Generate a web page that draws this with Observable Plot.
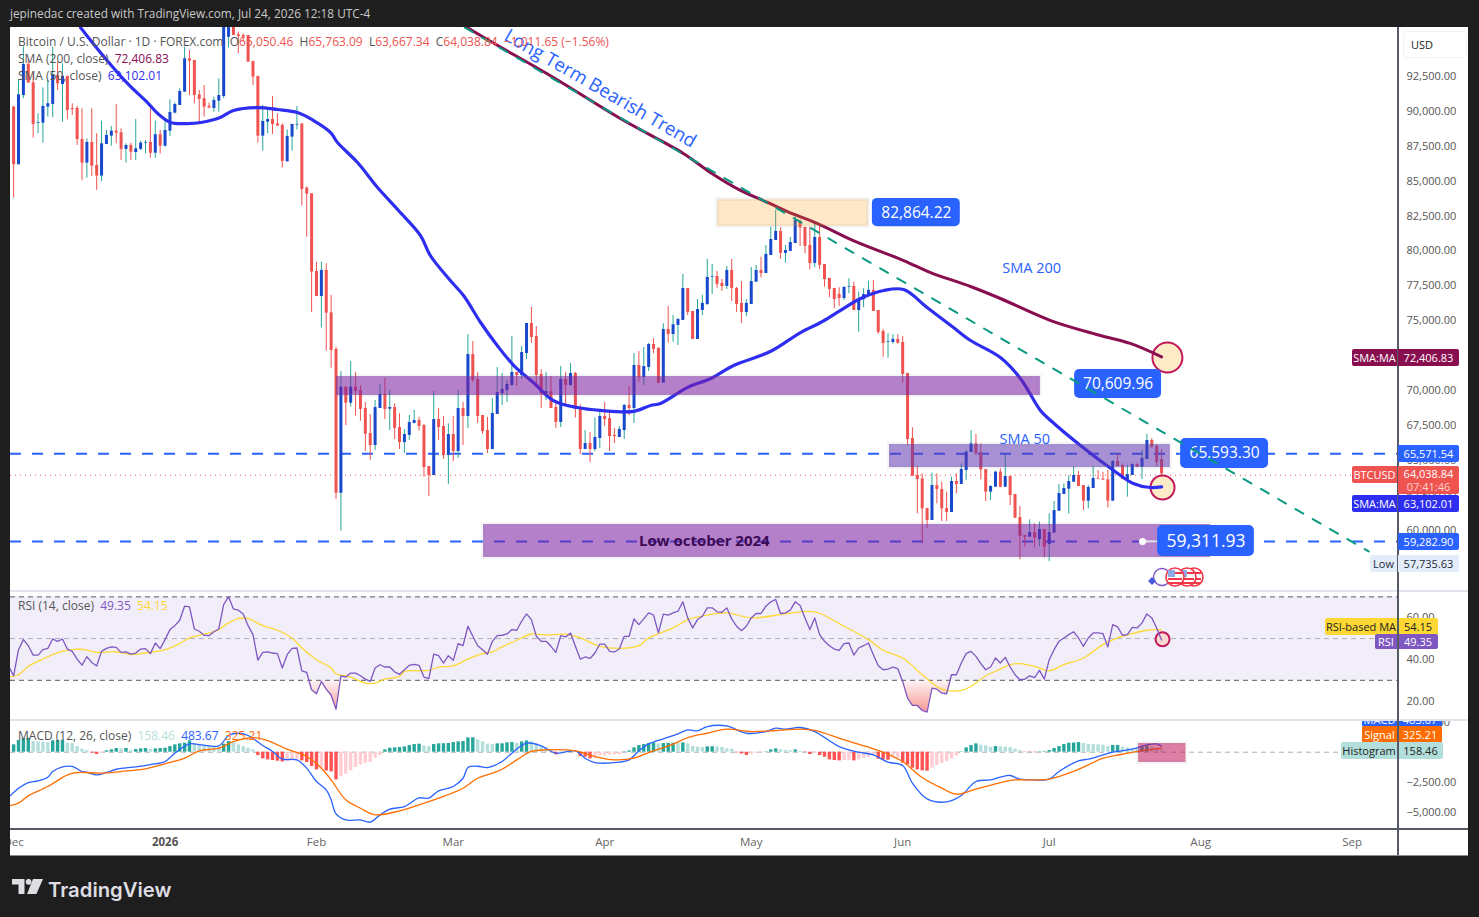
<!DOCTYPE html>
<html><head><meta charset="utf-8">
<script src="https://cdn.jsdelivr.net/npm/d3@7"></script>
<script src="https://cdn.jsdelivr.net/npm/@observablehq/plot@0.6"></script>
<style>
html,body{margin:0;padding:0;background:#1e1e1e;width:1479px;height:917px;overflow:hidden;font-family:"Open Sans",sans-serif}
#panel{position:absolute;left:10px;top:27px;width:1458px;height:829px;background:#fff}
.pane{position:absolute;left:0;width:1458px;overflow:hidden}
.abs{position:absolute;white-space:pre;line-height:1}
.tag{position:absolute;white-space:pre;font-size:11px;display:flex;align-items:center;justify-content:center;font-weight:500}
</style></head><body>
<div class="abs" style="left:10px;top:8px;color:#c9c9c9;font-size:11.8px">jepinedac created with TradingView.com, Jul 24, 2026 12:18 UTC-4</div>
<div id="panel"></div>
<svg style="position:absolute;left:12px;top:879px" width="32" height="16" viewBox="0 0 32 16"><path fill="#dddde2" d="M0 0h12.5v15h-6V5.4H0zM21 0h10l-6.6 15H15z"/><circle cx="16.6" cy="2.8" r="2.9" fill="#dddde2"/></svg>
<div class="abs" style="left:48px;top:877px;color:#dddde2;font:600 20.3px Inter,sans-serif">TradingView</div>
<script>
// day offsets are counted from 2026-02-01; daily bars start at 2025-12-01
const firstBarDay = -62;
const opens = [90.30,86.17,91.13,93.36,92.04,89.13,89.15,90.30,90.49,92.57,91.92,92.50,90.20,90.20,87.98,86.29,87.77,86.12,85.36,87.62,88.22,88.58,88.46,87.27,87.55,87.05,87.27,87.72,87.77,87.00,88.32,87.50,88.58,89.87,90.42,91.37,93.76,93.64,91.18,90.90,90.35,90.20,90.73,91.06,95.30,96.50,95.48,95.43,95.43,93.57,92.50,88.22,89.22,89.41,89.10,88.99,86.38,88.15,89.01,89.08,84.50,84.09,
78.53,76.73,78.60,75.56,72.94,62.64,70.24,69.09,70.24,70.00,68.71,66.92,66.06,68.71,69.71,68.66,68.78,67.35,66.27,66.78,67.64,67.85,67.49,64.55,63.91,67.92,67.42,65.34,66.85,65.63,68.71,68.14,72.58,70.79,68.21,67.13,65.77,68.28,69.78,70.00,70.36,71.29,71.07,72.65,74.80,73.87,71.14,69.78,69.93,68.78,67.71,70.79,70.36,71.22,68.71,65.77,66.20,65.77,66.56,68.14,67.99,66.78,66.63,67.13,68.93,68.71,71.79,70.93,71.65,73.30,
73.03,70.53,74.37,74.01,74.66,75.02,77.31,75.66,73.66,75.73,76.16,78.12,78.17,77.67,77.45,78.60,77.31,76.24,75.59,76.16,77.76,78.60,78.38,79.67,80.75,81.39,79.82,79.96,80.53,82.13,81.68,80.39,79.10,80.96,79.03,78.03,77.31,76.88,76.59,77.40,77.45,75.73,76.50,76.81,77.17,75.73,74.23,73.46,73.44,73.66,
73.44,71.22,66.56,63.91,63.67,61.55,60.69,63.19,62.91,61.55,61.26,63.48,63.27,64.27,65.56,66.18,65.53,64.34,62.72,63.07,64.15,63.07,63.84,62.55,60.90,59.61,59.49,59.83,59.32,60.04,58.97,59.78,61.35,62.55,62.93,63.43,63.91,63.19,62.07,62.98,63.70,63.65,63.60,62.07,64.91,64.63,63.62,63.91,64.70,64.51,65.06,66.42,65.99,65.05];
const highs = [90.35,92.26,94.60,93.70,92.80,89.82,91.68,92.21,94.60,93.52,93.40,92.50,90.54,90.35,90.18,88.03,90.18,88.39,89.30,88.63,88.91,90.49,88.75,87.67,87.72,89.41,87.86,87.91,90.18,89.30,88.63,89.34,90.82,90.59,91.61,94.60,94.36,93.64,91.49,91.85,90.59,91.01,92.33,96.50,97.00,97.00,95.67,95.55,95.43,93.57,92.50,90.42,90.18,91.06,89.82,89.10,88.67,89.06,90.35,89.13,84.57,84.09,
79.19,79.19,79.08,76.81,73.10,71.36,70.24,72.08,71.29,70.36,69.14,68.28,69.28,70.43,70.86,70.00,69.04,68.33,67.21,68.21,68.57,68.09,67.56,64.55,69.93,68.71,68.14,67.61,68.14,70.00,69.14,74.01,73.51,71.29,68.21,68.07,69.43,71.65,71.22,70.72,73.87,71.29,73.15,74.80,75.95,74.58,71.50,71.29,71.00,69.28,71.72,71.29,71.93,71.29,68.98,67.13,66.99,68.03,68.42,69.14,68.57,67.28,67.42,69.00,70.29,72.65,72.79,73.08,73.37,73.70,
73.03,74.78,76.02,75.37,75.14,78.31,77.31,75.66,76.52,76.81,79.39,79.03,78.53,77.95,78.89,79.39,77.38,77.81,76.52,78.81,78.96,79.55,80.39,81.70,82.90,81.65,80.39,80.96,82.54,82.23,81.68,81.70,81.94,81.94,79.03,78.03,77.31,77.36,77.45,78.00,77.76,77.05,77.29,77.83,77.88,75.73,74.37,74.06,73.99,74.01,
73.87,71.22,67.33,64.55,64.03,61.55,64.08,64.03,63.43,62.72,63.79,64.03,64.75,65.70,67.13,66.85,66.18,64.34,63.19,64.22,64.39,65.46,63.84,62.55,61.69,59.61,60.73,60.45,60.57,60.04,61.16,62.05,63.27,63.31,63.91,64.55,64.20,63.19,63.19,64.55,64.27,64.15,64.27,64.98,65.46,64.75,64.63,64.75,64.79,65.70,66.85,66.54,66.13,65.76];
const lows = [83.78,86.17,90.90,92.02,88.08,88.39,87.72,89.58,89.53,91.49,89.22,89.41,89.70,87.55,85.04,85.21,85.33,84.33,84.97,87.62,87.50,87.67,86.48,86.29,86.48,86.48,87.19,86.95,86.64,86.64,86.95,87.43,88.20,89.82,90.42,91.37,91.13,90.54,89.10,89.58,90.18,89.94,89.94,90.90,94.53,95.43,94.12,94.95,93.52,91.85,87.72,87.15,88.39,88.34,88.91,85.93,86.38,87.15,88.67,83.21,80.98,75.59,
76.73,74.47,72.82,71.60,62.19,59.92,67.49,68.81,68.16,67.80,65.63,65.00,65.70,68.71,67.92,67.13,66.49,65.77,65.49,66.42,67.61,67.09,63.79,62.41,63.91,66.42,65.06,63.27,64.91,65.13,66.06,67.28,70.57,67.64,66.85,65.49,65.77,68.28,68.93,69.14,70.29,70.29,70.79,72.22,73.37,70.36,68.71,69.28,68.71,67.28,67.35,68.85,70.29,68.03,65.42,65.77,64.84,65.63,65.85,67.42,65.63,66.20,66.63,66.49,68.21,67.64,70.57,70.36,71.36,72.63,
70.48,70.53,73.39,73.46,73.23,75.02,75.37,73.66,73.66,75.37,76.09,76.88,77.33,77.09,77.24,76.38,75.59,74.80,75.28,76.16,77.76,78.07,78.38,79.67,80.75,79.39,79.12,79.96,80.53,80.32,79.79,78.65,78.79,78.65,77.40,76.64,75.85,76.02,76.45,76.93,75.73,74.18,75.92,76.69,75.66,74.01,72.37,72.32,73.32,73.30,
70.53,66.06,63.86,61.16,59.01,60.14,60.69,61.88,60.61,60.61,61.26,62.60,63.27,63.55,65.56,65.34,63.60,62.05,62.12,63.07,63.03,63.07,61.76,60.85,57.87,58.78,59.49,58.73,58.82,58.01,57.74,59.78,61.35,62.55,61.16,63.43,63.12,61.40,61.52,62.98,63.65,63.55,61.59,62.07,64.55,63.62,62.36,63.91,64.48,63.62,65.06,65.82,64.55,63.67];
const closes = [86.17,91.18,93.36,92.02,89.06,89.18,90.35,90.54,92.57,91.97,92.50,90.06,90.13,87.98,86.29,87.77,86.07,85.36,87.67,88.27,88.58,88.44,87.27,87.55,87.07,87.31,87.72,87.77,87.00,88.32,87.50,88.63,89.92,90.49,91.42,93.76,93.59,91.13,90.85,90.30,90.25,90.78,91.13,96.50,96.50,95.43,95.36,95.31,93.52,92.45,88.22,89.27,89.41,89.06,88.94,86.41,88.20,89.06,89.06,84.40,84.07,78.48,
76.73,78.60,75.54,72.87,62.64,70.24,69.09,70.24,69.93,68.64,66.87,66.06,68.78,69.71,68.64,68.78,67.28,66.27,66.85,67.71,67.85,67.42,64.48,63.91,67.92,67.35,65.34,66.85,65.63,68.71,68.14,72.58,70.72,68.14,67.06,65.77,68.35,69.86,70.07,70.43,71.29,71.07,72.72,74.80,73.80,71.07,69.78,69.93,68.71,67.71,70.79,70.36,71.22,68.64,65.77,66.20,65.77,66.63,68.14,67.92,66.70,66.70,67.21,68.93,68.71,71.79,70.93,71.72,73.30,72.94,
70.53,74.37,74.01,74.71,75.09,77.31,75.59,73.66,75.80,76.24,78.10,78.17,77.60,77.45,78.60,77.31,76.16,75.59,76.24,77.81,78.60,78.38,79.75,80.82,81.39,79.82,80.03,80.60,82.18,81.65,80.32,79.10,80.96,78.96,77.95,77.24,76.52,76.59,77.38,77.45,75.73,76.52,76.88,77.17,75.66,74.16,73.37,73.51,73.66,73.39,
71.15,66.49,63.86,63.62,61.52,60.69,63.19,62.91,61.52,61.26,63.48,63.27,64.34,65.58,66.18,65.46,64.31,62.72,63.12,64.15,63.07,63.84,62.48,60.85,59.54,59.49,59.83,59.44,60.04,58.78,59.83,61.40,62.62,62.98,63.48,63.91,63.12,62.07,63.05,63.70,63.65,63.58,62.07,64.91,64.55,63.62,63.98,64.70,64.51,65.13,66.42,65.94,64.84,64.04];

const sma200Days = [25,30.9,48.5,62.2,75.1,80.7,86.8,92.9,96.4,102.6,109.9,120.2,125.7,133.9,140,150.3,160.5,166.6,173];
const sma200Vals = [97.44,96.0,92.42,89.48,86.98,85.6,84.33,83.39,82.82,81.96,80.74,79.31,78.45,77.45,76.59,75.01,73.94,73.37,72.41];
const sma50Days = [-48.3,-44.2,-38.7,-34.6,-32.5,-29.9,-26.4,-23.7,-19.7,-17,-12,-8,-3.9,-0.6,2.9,4.3,8.4,12.5,16.8,21.3,23.3,27.4,30.1,33.6,37,40.4,44.4,48.5,53.4,58.1,64.9,68.4,70.4,75.9,80.7,85.4,92.9,99.1,103.2,106.6,111.4,116.1,120.2,125,130.4,133.9,140,144.1,148.2,150.3,156.4,163.2,167.2,170.7,173];
const sma50Vals = [96,94.2,92,90.63,89.84,89.2,89.12,89.2,89.56,90.06,90.27,90.13,89.91,89.34,88.48,87.76,86.33,84.54,82.89,81.1,79.67,77.88,76.8,74.87,73.22,71.79,70.57,69.28,68.78,68.57,68.5,68.93,69.07,70.21,70.86,71.79,72.79,74.15,74.87,75.59,76.59,77.16,77.23,75.95,74.51,73.58,72.36,70.86,68.57,67.85,66.06,64.27,63.34,63.05,63.10];
const trendDays = [23.3,215.4];
const trendVals = [97.43,58.47];
const levelVals = [65571.54,59282.90];
const lastPrice = 64038.84;
const axisTextGap = 107; // the printed tick text sits about 1.5 px above its true level
const zoneStart = [4.09,117.3,34.2,82.1];
const zoneEnd = [148.2,174.8,183,113];
const zoneLow = [69.64,64.48,58.04,81.75];
const zoneHigh = [71.0,66.13,60.40,83.68];
const zoneFill = ["#7b1fa2","#5e35b1","#7b1fa2","#ff9800"];
const zoneOpacity = [.57,.55,.57,.22];
const calloutStart = [113.8,155.2,176.9,172.2];
const calloutEnd = [131.8,173,194.9,192];
const calloutLow = [81.73,69.43,64.41,58.11];
const calloutHigh = [83.76,71.5,66.56,60.33];
const calloutText = ["82,864.22","70,609.96","65,593.30","59,311.93"];
const priceTicks = [60000,62500,65000,67500,70000,72500,75000,77500,80000,82500,85000,87500,90000,92500];

const rsiStartDay = -63;
const rsiVals = [36.7,32.2,44.7,49.5,46.6,42.1,42.1,44.7,45.3,49.8,48.7,49.8,45.0,43.9,40.2,37.3,41.3,38.6,36.9,43.9,45.3,46.0,45.8,43.4,43.6,42.6,43.1,45.0,45.2,42.8,47.9,45.2,49.5,54.3,56.2,58.8,65.5,65.2,54.6,53.5,51.6,51.4,53.3,54.6,66.3,70.0,64.2,63.6,61.8,56.2,51.9,39.7,43.4,43.6,43.1,42.8,35.9,42.3,45.3,45.5,34.6,33.8,25.5,23.6,29.5,25.8,22.9,16.2,32.2,31.6,33.5,33.5,32.2,30.6,29.5,35.9,37.5,36.4,36.4,34.1,32.9,35.1,37.2,37.7,37.2,31.6,30.9,42.6,41.8,38.3,41.8,39.6,47.6,46.6,55.9,51.1,46.6,44.7,42.5,48.7,51.4,51.6,
52.2,54.3,54.0,58.3,61.8,59.1,51.1,48.7,48.7,46.3,43.4,51.4,50.8,52.7,46.3,40.2,41.2,40.5,43.1,47.4,47.4,43.9,43.6,45.0,51.1,51.1,59.4,56.7,59.4,62.3,61.3,52.7,61.7,61.2,62.3,63.1,67.6,59.9,55.1,59.1,60.7,64.7,64.7,62.8,62.6,64.7,59.4,55.9,53.8,55.9,59.9,62.0,62.0,65.5,67.6,68.7,62.0,62.3,63.6,67.6,65.8,59.9,54.3,59.9,51.9,48.7,46.6,45.0,44.4,47.6,47.9,42.1,45.5,46.6,47.9,42.3,37.0,35.1,35.4,36.4,35.6,29.5,21.5,18.0,18.0,15.6,14.8,26.3,25.8,23.9,23.6,32.7,32.7,38.3,42.8,43.9,41.5,38.0,35.1,36.4,40.7,38.3,
41.0,36.4,32.7,30.3,30.6,32.2,31.3,34.8,30.6,39.9,44.7,48.7,50.3,51.9,53.3,50.3,46.3,50.3,52.7,52.7,52.4,46.0,56.7,55.6,51.6,51.9,55.4,55.1,57.5,61.8,59.9,55.1,49.35];
const rsiMaDays = [-63,-61,-59,-56,-54,-52,-50,-48,-45,-41,-38,-35,-31,-28,-26,-22,-20,-18,-16,-14,-11,-8,-5,-3,0,3,4,7,10,12,14,17,18,21,23,25,28,31,34,36,38,41,44,47,51,54,58,62,66,68,73,76,80,84,89,96,102,108,113,116,120,124,128,132,134,137,140,142,144,147,150,153,157,161,164,167,170,172,173];
const rsiMaVals = [31.6,32.7,36.7,40.2,42.3,43.9,44.7,45.0,43.4,43.7,42.3,43.1,44.7,47.6,50.3,52.7,54.3,57.5,59.6,59.6,56.2,54.0,50.3,45.5,39.9,35.9,33.2,31.6,28.7,28.7,30.6,31.9,34.3,34.6,34.8,36.4,37.0,40.2,42.8,43.7,46.0,49.2,52.2,51.7,52.1,50.3,46.3,45.3,46.6,50.3,55.1,59.1,61.3,62.3,59.9,61.8,62.8,55.9,49.5,44.4,40.7,32.7,25.8,25.2,27.1,32.2,35.4,37.5,38.0,36.7,34.6,37.5,40.7,47.1,50.3,52.4,54.0,54.3,54.15];
const rsiTicks = [60,40,20];

const macdDays = [-63,-61,-59,-57,-55,-54,-52,-50,-48,-47,-45,-43,-41,-39,-37,-34,-31,-29,-26,-24,-20,-18,-16,-14,-11,-9,-7,-4,-2,0,2,3,4,6,9,11,13,15,18,21,23,25,28,30,31,33,35,38,40,43,46,49,53,55,57,62,64,66,68,71,74,76,78,80,84,88,92,94,96,99,102,107,111,114,117,120,122,125,129,132,135,138,140,142,144,147,150,152,156,158,161,163,167,170,172,173];
const macdVals = [-3750,-3000,-2530,-2390,-2080,-1610,-1220,-1190,-1610,-1670,-1890,-1690,-1420,-1310,-1220,-1030,-780,-80,690,640,530,1390,1580,1390,560,60,-580,-640,-1330,-2440,-3140,-3970,-5140,-5640,-5640,-5830,-5220,-4750,-4530,-3810,-3830,-3220,-2860,-2170,-1280,-1170,-1280,-780,-80,750,530,-80,110,-500,-860,-830,-640,110,690,1110,1530,1860,1780,2140,2190,1580,1720,2000,1920,2060,1720,470,0,-220,-830,-1110,-2580,-3890,-4140,-3610,-2440,-2310,-2080,-1940,-2250,-2310,-2250,-1610,-720,-580,-220,0,250,610,690,483.67];
const signalDays = [-63,-61,-59,-55,-51,-49,-44,-40,-35,-31,-27,-24,-20,-17,-13,-10,-6,-2,1,3,6,9,12,17,21,25,30,33,36,38,41,44,47,53,57,61,65,68,73,76,80,84,89,94,99,102,108,113,117,120,124,128,131,135,140,143,147,150,154,158,161,165,169,173];
const signalVals = [-4470,-4250,-3640,-2860,-1890,-1690,-1750,-1610,-1390,-970,-500,110,330,890,1220,970,250,-360,-1330,-2310,-3970,-4670,-5220,-4890,-4390,-3830,-3000,-2170,-1750,-1420,-640,60,190,110,-360,-640,-500,-30,670,1220,1580,1920,1720,1810,1920,1810,1030,420,-170,-780,-2110,-3000,-3500,-3080,-2530,-2310,-2310,-2250,-1750,-1060,-500,-170,140,325.21];
const histVals = [611,972,1139,1167,889,861,833,806,944,972,1000,750,722,472,250,139,-83,-194,-83,111,194,306,278,306,139,222,278,306,250,278,306,333,472,611,694,750,944,694,611,583,472,417,389,667,889,750,611,472,333,194,-278,-556,-639,-694,-750,-806,-750,-694,-639,-722,-861,-1194,
-1472,-1333,-1556,-1639,-2306,-2028,-1833,-1556,-1278,-1056,-917,-861,-500,-278,194,333,361,389,444,556,639,667,528,472,639,694,708,722,806,861,889,1194,1200,1028,861,667,639,694,700,778,806,750,861,944,889,667,472,333,194,-222,-83,-28,83,28,-361,-417,-556,-500,-306,-278,-250,-222,-194,28,111,361,556,639,722,778,694,722,736,750,722,778,694,472,417,389,444,458,444,389,278,250,-56,-139,-278,-194,-111,-83,28,194,278,194,167,111,194,83,-28,-194,-111,-278,-417,-639,-694,-722,-694,-680,-722,-639,-500,-444,-222,-583,-639,-667,-500,-472,-917,-1056,-1333,-1472,-1556,-1583,-1333,-1111,-917,-778,-556,-306,28,361,556,694,583,528,417,472,444,417,389,250,139,-28,-33,-42,28,42,139,306,472,639,750,764,806,722,667,639,611,583,472,556,570,417,361,278,250,472,486,417,333,158.46];
const macdTicks = [2500,-2500,-5000];
const monthTicks = ["2025-12-01","2026-02-01","2026-03-01","2026-04-01","2026-05-01","2026-06-01","2026-07-01","2026-08-01","2026-09-01"];
const yearTick = "2026-01-01";

const day = d => new Date(Date.UTC(2026,1,1) + d*864e5);
const xScale = {type:"utc",domain:[day(-62.64),day(221.3)],range:[0,1387]};
const base = {width:1458,marginLeft:0,marginRight:71,marginTop:0,marginBottom:0,x:{...xScale,axis:null},
  style:{background:"transparent",fontFamily:'"Open Sans",sans-serif',overflow:"visible"}};
const UP="#26a69a",DOWN="#ef5350",BODY="#1848cc",LINE="#2962ff";
const fmt2=v=>d3.format(",.2f")(v);
const SMOOTH="catmull-rom";

const bars = closes.map((c,i)=>({x:day(firstBarDay+i),o:opens[i]*1e3,h:highs[i]*1e3,l:lows[i]*1e3,c:c*1e3,up:c>=opens[i]}));
const zip=(ds,vs,k=1)=>ds.map((d,i)=>({x:day(d),v:vs[i]*k}));
const sma200=zip(sma200Days,sma200Vals,1e3), sma50=zip(sma50Days,sma50Vals,1e3), trend=zip(trendDays,trendVals,1e3);
const zones=zoneStart.map((s,i)=>({x1:day(s),x2:day(zoneEnd[i]),y1:zoneLow[i]*1e3,y2:zoneHigh[i]*1e3,fill:zoneFill[i],op:zoneOpacity[i]}));
const callouts=calloutStart.map((s,i)=>({x1:day(s),x2:day(calloutEnd[i]),y1:calloutLow[i]*1e3,y2:calloutHigh[i]*1e3,t:calloutText[i],big:i==3}));

const price = Plot.plot({...base,height:563,color:{type:"identity"},
  y:{domain:[55673,96003],range:[563,0],axis:null},
  marks:[
    Plot.axisY({anchor:"right",ticks:priceTicks,tickFormat:fmt2,tickSize:0,tickPadding:9,label:null,fontSize:11,color:"#555"}),
    Plot.ruleY(levelVals.map(v=>v-axisTextGap),{x1:day(-62.64),x2:day(221.3),stroke:LINE,strokeWidth:2,strokeDasharray:"11,11"}),
    Plot.ruleY([lastPrice-axisTextGap],{x1:day(-62.64),x2:day(221.3),stroke:DOWN,strokeDasharray:"1,4"}),
    Plot.ruleX(bars,{x:"x",y1:"l",y2:"h",stroke:d=>d.up?UP:DOWN,strokeWidth:1}),
    Plot.ruleX(bars,{x:"x",y1:"o",y2:"c",stroke:d=>d.up?BODY:DOWN,strokeWidth:3}),
    Plot.dot([{x:day(174.2),y:72360}],{x:"x",y:"y",r:15,fill:"#fdebc8",stroke:"#c2185b",strokeWidth:2}),
    Plot.dot([{x:day(173.2),y:63050}],{x:"x",y:"y",r:12,fill:"#fdebc8",stroke:"#c2185b",strokeWidth:2}),
    Plot.line(sma200,{x:"x",y:"v",stroke:"#880e4f",strokeWidth:3,curve:SMOOTH}),
    Plot.line(sma50,{x:"x",y:"v",stroke:"#2e2ef0",strokeWidth:3.2,curve:SMOOTH}),
    Plot.rect(zones,{x1:"x1",x2:"x2",y1:"y1",y2:"y2",fill:"fill",fillOpacity:"op",stroke:"#787b86",strokeOpacity:.08,strokeWidth:4}),
    Plot.ruleY([59190],{x1:day(169.1),x2:day(173),stroke:"#e3e3e8",strokeWidth:2}),
    Plot.dot([{x:day(169.1),y:59190}],{x:"x",y:"y",r:3.5,fill:"#fff"}),
    Plot.rect(callouts,{x1:"x1",x2:"x2",y1:"y1",y2:"y2",fill:LINE,rx:5}),
    Plot.text(callouts,{x:d=>new Date((+d.x1 + +d.x2)/2),y:d=>(d.y1+d.y2)/2,text:"t",fill:"#fff",fontSize:d=>d.big?17.5:15.5,fontWeight:d=>d.big?700:600}),
    Plot.line(trend,{x:"x",y:"v",stroke:"#089981",strokeWidth:2,strokeDasharray:"9,11"}),
    Plot.text([{x:day(79.4),y:59190,t:"Low october 2024"}],{x:"x",y:"y",text:"t",fill:"#3b0a55",fontSize:15,fontWeight:700}),
    Plot.text([{x:day(146.4),y:78740,t:"SMA 200"},{x:day(145),y:66490,t:"SMA 50"}],{x:"x",y:"y",text:"t",fill:LINE,fontSize:14.5}),
    Plot.text([{x:day(58.1),y:91630,t:"Long Term Bearish Trend"}],{x:"x",y:"y",text:"t",rotate:30,fill:LINE,fontSize:18.5})
  ]});

const rsi = rsiVals.map((v,i)=>({x:day(rsiStartDay+i),v}));
const rsiMa = zip(rsiMaDays,rsiMaVals);
const gradient = () => { const s=d3.create("svg:defs"); const g=s.append("linearGradient").attr("id","rsiGrad").attr("x1",0).attr("x2",0).attr("y1",0).attr("y2",1);
  g.append("stop").attr("offset","0").attr("stop-color","#ef5350").attr("stop-opacity",.05);
  g.append("stop").attr("offset","1").attr("stop-color","#ef5350").attr("stop-opacity",.6); return s.node(); };
const rsiPlot = Plot.plot({...base,height:130,
  y:{domain:[10.81,73.01],range:[130,0],axis:null},
  marks:[ gradient,
    Plot.rect([{}],{x1:day(-62.64),x2:day(221.3),y1:30,y2:70,fill:"#7e57c2",fillOpacity:.1}),
    Plot.ruleY([70,30],{stroke:"#787b86",strokeDasharray:"5,4",strokeWidth:1.2}),
    Plot.ruleY([50],{stroke:"#787b86",strokeOpacity:.55,strokeDasharray:"5,4"}),
    Plot.axisY({anchor:"right",ticks:rsiTicks,tickFormat:v=>v.toFixed(2),tickSize:0,tickPadding:9,label:null,fontSize:11,color:"#555"}),
    Plot.areaY(rsi,{x:"x",y1:30,y2:d=>Math.min(d.v,30),fill:"url(#rsiGrad)"}),
    Plot.dot([{x:day(173.2),y:49.7}],{x:"x",y:"y",r:7,fill:"#fbd9d0",stroke:"#c2185b",strokeWidth:2}),
    Plot.line(rsiMa,{x:"x",y:"v",stroke:"#fdd835",strokeWidth:1.3,curve:SMOOTH}),
    Plot.line(rsi,{x:"x",y:"v",stroke:"#7e57c2",strokeWidth:1.3})
  ]});

const hist = histVals.map((v,i)=>{const p=i?histVals[i-1]:0; return {x:day(firstBarDay+i),v,c:v>=0?(v>=p?"#26a69a":"#b2dfdb"):(v<=p?"#ff5252":"#ffcdd2")};});
const minus=s=>s.replace("-","\u2212");
const macdPlot = Plot.plot({...base,height:136,marginBottom:28,color:{type:"identity"},
  y:{domain:[-6358,2642],axis:null},
  marks:[
    Plot.ruleY([0],{stroke:"#787b86",strokeOpacity:.6,strokeDasharray:"5,4"}),
    Plot.axisY({anchor:"right",ticks:macdTicks,tickFormat:v=>minus(fmt2(v)),tickSize:0,tickPadding:9,label:null,fontSize:11,color:"#555"}),
    Plot.axisX({ticks:monthTicks.map(s=>new Date(s)),tickFormat:d3.utcFormat("%b"),tickSize:0,tickPadding:9,label:null,fontSize:11.5,color:"#666"}),
    Plot.axisX({ticks:[new Date(yearTick)],tickFormat:()=>"2026",tickSize:0,tickPadding:9,label:null,fontSize:11.5,fontWeight:700,color:"#555"}),
    Plot.ruleX(hist,{x:"x",y1:0,y2:"v",stroke:"c",strokeWidth:3.4}),
    Plot.line(zip(macdDays,macdVals),{x:"x",y:"v",stroke:LINE,strokeWidth:1.3,curve:SMOOTH}),
    Plot.line(zip(signalDays,signalVals),{x:"x",y:"v",stroke:"#ff6d00",strokeWidth:1.3,curve:SMOOTH}),
    Plot.rect([{x1:day(168.3),x2:day(178),y1:-858,y2:725}],{x1:"x1",x2:"x2",y1:"y1",y2:"y2",fill:"#c2185b",fillOpacity:.55,stroke:"#787b86",strokeOpacity:.08,strokeWidth:4})
  ]});

const panel=document.getElementById("panel");
function pane(top,h,node){const d=document.createElement("div");d.className="pane";d.style.top=top+"px";d.style.height=h+"px";d.appendChild(node);panel.appendChild(d);return d;}
const pricePane=pane(0,563,price), rsiPane=pane(563,130,rsiPlot), macdPane=pane(693,136,macdPlot);
function el(parent,css,text,cls){const d=document.createElement("div");d.className=cls||"abs";d.style.cssText=css;if(text!=null)d.textContent=text;parent.appendChild(d);return d;}
// frame lines
el(panel,"left:0;top:563px;width:1458px;height:2px;background:#e0e3eb");
el(panel,"left:0;top:692px;width:1458px;height:2px;background:#e0e3eb");
el(panel,"left:0;top:801px;width:1458px;height:1.5px;background:#555a66");
el(panel,"left:1387px;top:0;width:1.5px;height:829px;background:#555a66");
el(panel,"left:0;top:827.5px;width:1458px;height:1.5px;background:#8b8b8b");
// legends
function legend(top,parts){const w=el(panel,`left:8px;top:${top}px;font-size:12px`);parts.forEach(([t,c])=>{const s=document.createElement("span");s.textContent=t;s.style.color=c;w.appendChild(s);});}
const G="#555",R="#ef5350";
legend(9,[["Bitcoin / U.S. Dollar \u00b7 1D \u00b7 FOREX.com  ",G],["O",G],["65,050.46  ",R],["H",G],["65,763.09  ",R],["L",G],["63,667.34  ",R],["C",G],["64,038.84  ",R],["\u22121,011.65 (\u22121.56%)",R]]);
legend(26,[["SMA (200, close)  ",G],["72,406.83","#880e4f"]]);
legend(43,[["SMA (50, close)  ",G],["63,102.01","#2e2ef0"]]);
legend(573,[["RSI (14, close)  ",G],["49.35  ","#7e57c2"],["54.15","#fdd835"]]);
legend(703,[["MACD (12, 26, close)  ",G],["158.46  ","#b2dfdb"],["483.67  ",LINE],["325.21","#ff6d00"]]);
// right scale tags
function tag(parent,l,w,t,h,txt,bg,fg,rad){el(parent,`left:${l}px;width:${w}px;top:${t}px;height:${h}px;background:${bg};color:${fg};border-radius:${rad||"2px"}`,txt,"tag");}
const py=v=>price.scale("y").apply(v)+1.5;
function pair(y,label,val,bg,fg,lw=45,h=17){const t=y-h/2; if(label)tag(panel,1387-lw,lw,t,h,label,bg,fg,"2px 0 0 2px"); tag(panel,1388,61,t,h,val,bg,fg,"0 2px 2px 0");}
pair(py(72406.83),"SMA:MA","72,406.83","#880e4f","#fff");
pair(py(65571.54),null,"65,571.54",LINE,"#fff");
pair(py(63102.01)+16,"SMA:MA","63,102.01","#2e2ef0","#fff");
pair(py(59282.90),null,"59,282.90",LINE,"#fff");
pair(py(57735.63)+1,"Low","57,735.63","#e3ecf9","#1f2a3a",27);
tag(panel,1342,45,py(64038.84)-8.5,17,"BTCUSD",R,"#fff","2px 0 0 2px");
const bt=el(panel,`left:1388px;width:61px;top:${py(64038.84)-8.5}px;height:28px;background:${R};color:#fff;border-radius:0 2px 2px 0;flex-direction:column;line-height:13px`,null,"tag");
bt.innerHTML='<span>64,038.84</span><span style="color:#fcd3d1">07:41:46</span>';
el(panel,"left:1393px;top:4px;width:55px;height:25px;border:1px solid #f0f3fa;border-radius:4px;font-size:11px;color:#222;display:flex;align-items:center;padding-left:7px;justify-content:flex-start","USD","tag");
// RSI tags
const ry=v=>rsiPlot.scale("y").apply(v);
tag(rsiPane,1315,72,ry(54.15)-3.4-8.5,17,"RSI-based MA","#fdd835","#222","2px 0 0 2px");
tag(rsiPane,1388,40,ry(54.15)-3.4-8.5,17,"54.15","#fdd835","#222","0 2px 2px 0");
tag(rsiPane,1365,22,ry(49.35)+1.6-7.5,15,"RSI","#7e57c2","#fff","2px 0 0 2px");
tag(rsiPane,1388,40,ry(49.35)+1.6-7.5,15,"49.35","#7e57c2","#fff","0 2px 2px 0");
// MACD tags
tag(macdPane,1352,35,-9,16,"MACD",LINE,"#fff","2px 0 0 2px");
tag(macdPane,1388,44,-9,16,"483.67",LINE,"#fff","0 2px 2px 0");
tag(macdPane,1352,35,6,17,"Signal","#ff6d00","#fff","2px 0 0 2px");
tag(macdPane,1388,44,6,17,"325.21","#ff6d00","#fff","0 2px 2px 0");
tag(macdPane,1331,56,22,17,"Histogram","#b2dfdb","#222","2px 0 0 2px");
tag(macdPane,1388,45,22,17,"158.46","#b2dfdb","#222","0 2px 2px 0");
// event icons under the price bars
const ic=document.createElementNS("http://www.w3.org/2000/svg","svg");
ic.setAttribute("width","60");ic.setAttribute("height","24");ic.style.cssText="position:absolute;left:1136px;top:538px;overflow:visible";
const flag=cx=>`<circle cx="${cx}" cy="12" r="9" fill="#fff" stroke="#f23645" stroke-width="1.6"/><rect x="${cx-7}" y="13" width="14" height="2" fill="#f23645"/><rect x="${cx-6}" y="17" width="12" height="2" fill="#f23645"/><rect x="${cx}" y="7" width="7" height="2" fill="#f23645"/><rect x="${cx-7}" y="5" width="7" height="7" fill="#8fa9e8"/>`;
ic.innerHTML=`<circle cx="16" cy="12" r="8.5" fill="#fff" stroke="#7e57c2" stroke-width="1.4"/><path d="M2 16l4-4 4 4-4 4z" fill="#4a5ae0"/>`+flag(48)+flag(41)+flag(29);
panel.appendChild(ic);
</script>
</body></html>
